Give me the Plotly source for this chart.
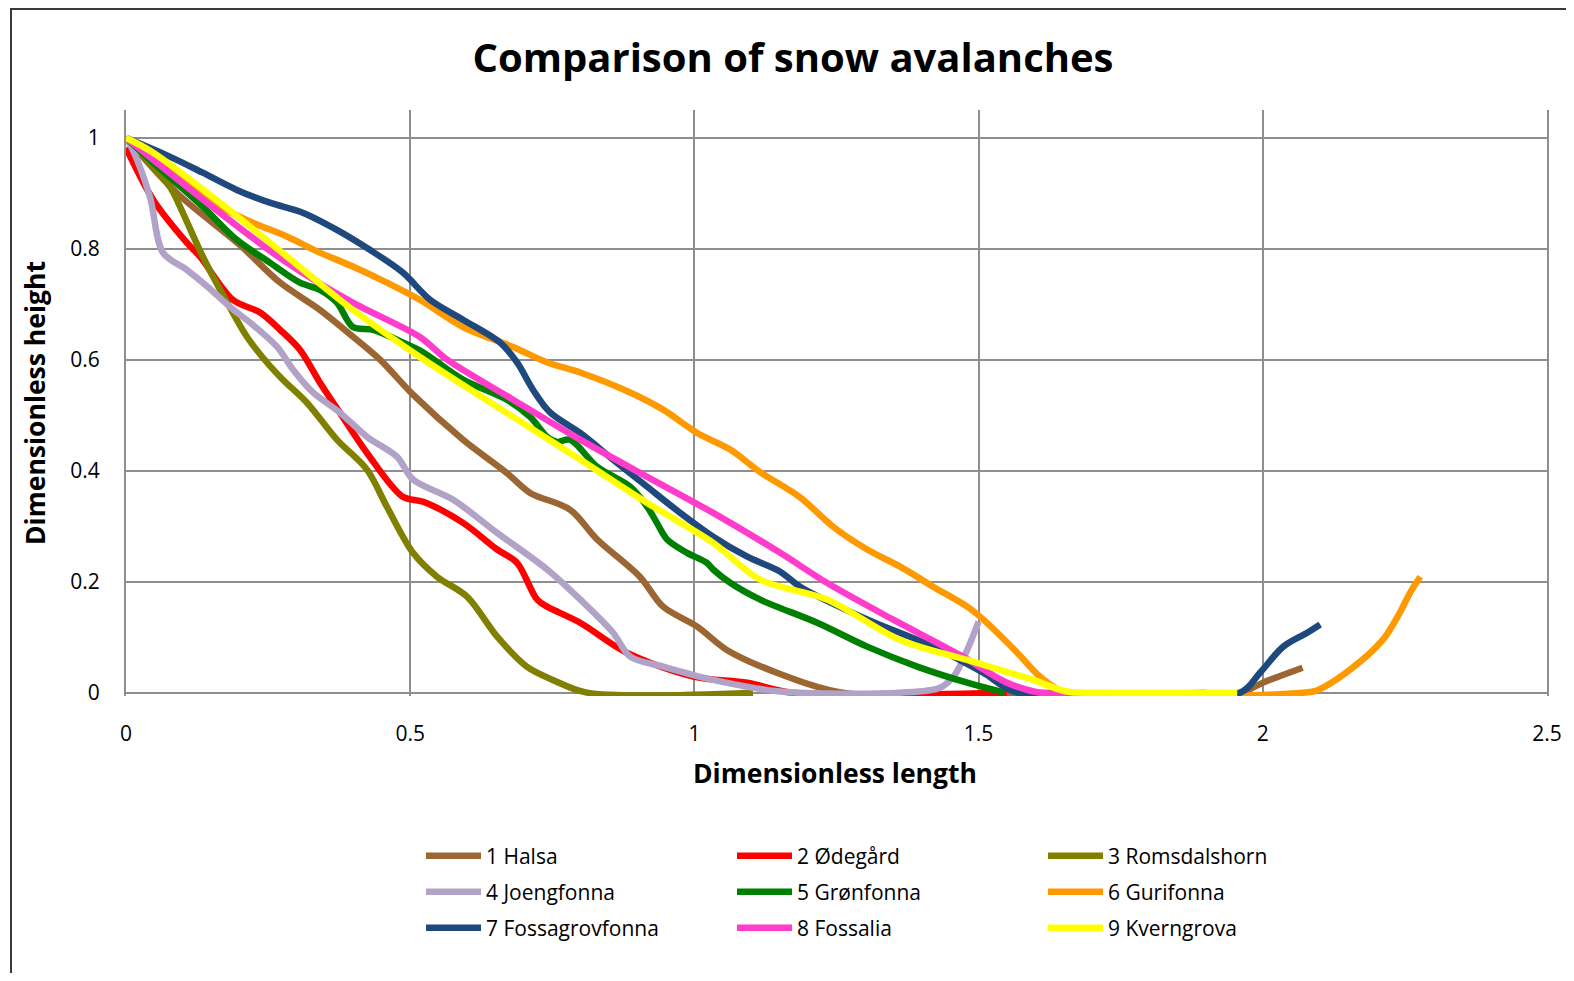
import plotly.graph_objects as go

# ---- data (dimensionless length, dimensionless height) ----
names = ["1 Halsa", "2 Ødegård", "3 Romsdalshorn", "4 Joengfonna", "5 Grønfonna",
         "6 Gurifonna", "7 Fossagrovfonna", "8 Fossalia", "9 Kverngrova"]
colors = ["#9b6632", "#ff0000", "#808000", "#b3a2c7", "#008000",
          "#ff9900", "#1f497d", "#ff3ccc", "#ffff00"]

halsa_x = [0, 0.09, 0.2, 0.271, 0.341, 0.4, 0.447, 0.505, 0.593, 0.67, 0.711, 0.781, 0.829,
           0.904, 0.945, 1.005, 1.057, 1.145, 1.261, 1.6, 1.96, 2.0, 2.07]
halsa_y = [1.0, 0.90, 0.807, 0.739, 0.69, 0.641, 0.6, 0.537, 0.456, 0.396, 0.36, 0.33, 0.276,
           0.209, 0.155, 0.119, 0.077, 0.036, 0.0, 0.0, 0.0, 0.018, 0.045]

odegard_x = [0, 0.048, 0.107, 0.13, 0.188, 0.236, 0.271, 0.306, 0.341, 0.376, 0.424, 0.487,
             0.523, 0.593, 0.653, 0.688, 0.723, 0.741, 0.799, 0.881, 0.998, 1.093, 1.173, 1.55]
odegard_y = [0.982, 0.888, 0.811, 0.786, 0.708, 0.685, 0.654, 0.618, 0.559, 0.505, 0.432, 0.353,
             0.344, 0.306, 0.258, 0.234, 0.168, 0.155, 0.126, 0.072, 0.029, 0.018, 0.0, 0.0]

romsdal_x = [0, 0.077, 0.095, 0.135, 0.178, 0.213, 0.248, 0.276, 0.318, 0.371, 0.424, 0.459,
             0.505, 0.547, 0.6, 0.653, 0.705, 0.751, 0.811, 1.103]
romsdal_y = [1.0, 0.912, 0.876, 0.786, 0.703, 0.641, 0.595, 0.564, 0.523, 0.456, 0.402, 0.335,
             0.252, 0.209, 0.173, 0.101, 0.047, 0.023, 0.0, 0.0]

joeng_x = [0, 0.012, 0.042, 0.065, 0.107, 0.143, 0.183, 0.223, 0.266, 0.294, 0.329, 0.376,
           0.424, 0.477, 0.505, 0.575, 0.653, 0.741, 0.799, 0.857, 0.887, 0.945, 1.033, 1.151,
           1.362, 1.432, 1.458, 1.48, 1.5]
joeng_y = [1.0, 0.978, 0.894, 0.793, 0.762, 0.732, 0.695, 0.663, 0.623, 0.582, 0.541, 0.505,
           0.461, 0.425, 0.384, 0.348, 0.288, 0.222, 0.168, 0.108, 0.065, 0.047, 0.023, 0.002,
           0.0, 0.009, 0.032, 0.077, 0.128]

gron_x = [0, 0.048, 0.135, 0.195, 0.253, 0.306, 0.341, 0.371, 0.399, 0.435, 0.487, 0.523,
          0.593, 0.67, 0.711, 0.741, 0.758, 0.781, 0.829, 0.887, 0.917, 0.934, 0.952, 0.987,
          1.022, 1.033, 1.063, 1.115, 1.216, 1.304, 1.392, 1.48, 1.546]
gron_y = [1.0, 0.955, 0.876, 0.816, 0.775, 0.739, 0.726, 0.703, 0.659, 0.654, 0.631, 0.613,
          0.564, 0.528, 0.497, 0.461, 0.452, 0.456, 0.407, 0.371, 0.335, 0.306, 0.276, 0.252,
          0.234, 0.222, 0.198, 0.168, 0.126, 0.083, 0.047, 0.018, 0.0]

guri_x = [0, 0.107, 0.165, 0.223, 0.283, 0.341, 0.399, 0.459, 0.517, 0.593, 0.681, 0.741,
          0.799, 0.887, 0.945, 1.005, 1.063, 1.115, 1.186, 1.244, 1.304, 1.362, 1.42, 1.48,
          1.508, 1.568, 1.608, 1.655, 2.071, 2.095, 2.153, 2.211, 2.241, 2.259, 2.277]
guri_y = [1.0, 0.924, 0.876, 0.847, 0.822, 0.793, 0.768, 0.739, 0.708, 0.659, 0.623, 0.595,
          0.577, 0.541, 0.51, 0.468, 0.438, 0.398, 0.352, 0.299, 0.258, 0.227, 0.191, 0.155,
          0.132, 0.072, 0.029, 0.0, 0.0, 0.004, 0.041, 0.095, 0.144, 0.18, 0.209]

fossag_x = [0, 0.077, 0.135, 0.195, 0.253, 0.311, 0.371, 0.429, 0.487, 0.535, 0.593, 0.658,
            0.688, 0.716, 0.746, 0.799, 0.857, 0.917, 0.975, 1.033, 1.093, 1.151, 1.186, 1.304,
            1.42, 1.508, 1.568, 1.96, 1.995, 2.036, 2.078, 2.101]
fossag_y = [1.0, 0.966, 0.937, 0.906, 0.883, 0.865, 0.834, 0.798, 0.757, 0.708, 0.672, 0.631,
            0.595, 0.546, 0.505, 0.468, 0.42, 0.371, 0.324, 0.281, 0.245, 0.218, 0.191, 0.132,
            0.083, 0.036, 0.0, 0.0, 0.036, 0.083, 0.108, 0.123]

fossalia_x = [0, 0.165, 0.283, 0.399, 0.517, 0.565, 0.681, 0.799, 0.917, 1.033, 1.151, 1.233,
              1.349, 1.467, 1.55, 1.608, 1.9]
fossalia_y = [1.0, 0.865, 0.775, 0.703, 0.641, 0.6, 0.528, 0.456, 0.389, 0.324, 0.252, 0.198,
              0.132, 0.068, 0.018, 0.0, 0.0]

kvern_x = [0, 0.048, 0.165, 0.283, 0.399, 0.517, 0.681, 0.799, 0.917, 1.033, 1.115, 1.233,
           1.362, 1.48, 1.538, 1.596, 1.655, 1.714, 1.955]
kvern_y = [1.0, 0.973, 0.883, 0.786, 0.69, 0.605, 0.497, 0.42, 0.342, 0.27, 0.204, 0.168,
           0.095, 0.059, 0.041, 0.023, 0.002, 0.0, 0.0]

series_x = [halsa_x, odegard_x, romsdal_x, joeng_x, gron_x, guri_x, fossag_x, fossalia_x, kvern_x]
series_y = [halsa_y, odegard_y, romsdal_y, joeng_y, gron_y, guri_y, fossag_y, fossalia_y, kvern_y]

x_ticks = [0, 0.5, 1, 1.5, 2, 2.5]
x_tick_text = ["0", "0.5", "1", "1.5", "2", "2.5"]
y_ticks = [0, 0.2, 0.4, 0.6, 0.8, 1]
y_tick_text = ["0", "0.2", "0.4", "0.6", "0.8", "1"]

FONT = "Open Sans"
OFF = 8                      # default page body margin
W, H = 1574 - 2 * OFF, 981 - 2 * OFF
L, R, T, B = 118, 19, 102, 277
pw = W - L - R
ph = H - T - B


def px_x(ref_px):
    return (ref_px - OFF - L) / pw


def px_y(ref_py):
    return (H - B - (ref_py - OFF)) / ph


fig = go.Figure()
legend_ids = ["legend", "legend", "legend", "legend2", "legend2", "legend2",
              "legend3", "legend3", "legend3"]
for i in range(9):
    fig.add_trace(go.Scatter(
        x=series_x[i], y=series_y[i], name=names[i], mode="lines",
        line=dict(color=colors[i], width=6.5, shape="spline", smoothing=0.9),
        legend=legend_ids[i],
    ))

leg_common = dict(orientation="h", font=dict(family=FONT, size=21, color="#000000"),
                  entrywidth=241, entrywidthmode="pixels", itemwidth=55,
                  bgcolor="rgba(0,0,0,0)", xanchor="left", yanchor="middle",
                  traceorder="normal", itemclick=False, itemdoubleclick=False)
lx = px_x(421)
fig.update_layout(
    width=W, height=H,
    margin=dict(l=L, r=R, t=T, b=B, autoexpand=False),
    paper_bgcolor="white", plot_bgcolor="white",
    title=dict(text="<b>Comparison of snow avalanches</b>", x=(793 - OFF) / W, xanchor="center",
               y=1 - (58 - OFF) / H, yanchor="middle", yref="container",
               font=dict(family=FONT, size=40, color="#000000")),
    xaxis=dict(range=[0, 2.5], tickvals=x_ticks, ticktext=x_tick_text,
               showgrid=True, gridcolor="#8e8e8e", gridwidth=2,
               showline=False, zeroline=False, ticks="",
               tickfont=dict(family=FONT, size=21, color="#000000"), ticklabelstandoff=23),
    yaxis=dict(range=[-0.006, 1.05], tickvals=y_ticks, ticktext=y_tick_text,
               showgrid=True, gridcolor="#8e8e8e", gridwidth=2,
               showline=True, linecolor="#8e8e8e", linewidth=2, mirror=True,
               zeroline=True, zerolinecolor="#8e8e8e", zerolinewidth=2, ticks="",
               tickfont=dict(family=FONT, size=21, color="#000000"), ticklabelstandoff=20),
    legend=dict(x=lx, y=px_y(856), **leg_common),
    legend2=dict(x=lx, y=px_y(892), **leg_common),
    legend3=dict(x=lx, y=px_y(928), **leg_common),
    showlegend=True,
)

fig.add_annotation(text="<b>Dimensionless length</b>", x=px_x(835), y=px_y(773),
                   xref="paper", yref="paper", showarrow=False,
                   xanchor="center", yanchor="middle",
                   font=dict(family=FONT, size=26.5, color="#000000"))
fig.add_annotation(text="<b>Dimensionless height</b>", x=px_x(35), y=px_y(403),
                   xref="paper", yref="paper", showarrow=False, textangle=-90,
                   xanchor="center", yanchor="middle",
                   font=dict(family=FONT, size=26.5, color="#000000"))

# outer chart border (right and bottom edges fall outside the picture)
fig.add_shape(type="rect", xref="paper", yref="paper",
              x0=px_x(11), x1=px_x(1600), y0=px_y(1010), y1=px_y(9),
              line=dict(color="#3a3a3a", width=2), fillcolor="rgba(0,0,0,0)", layer="below")

fig.write_html("out.html")
